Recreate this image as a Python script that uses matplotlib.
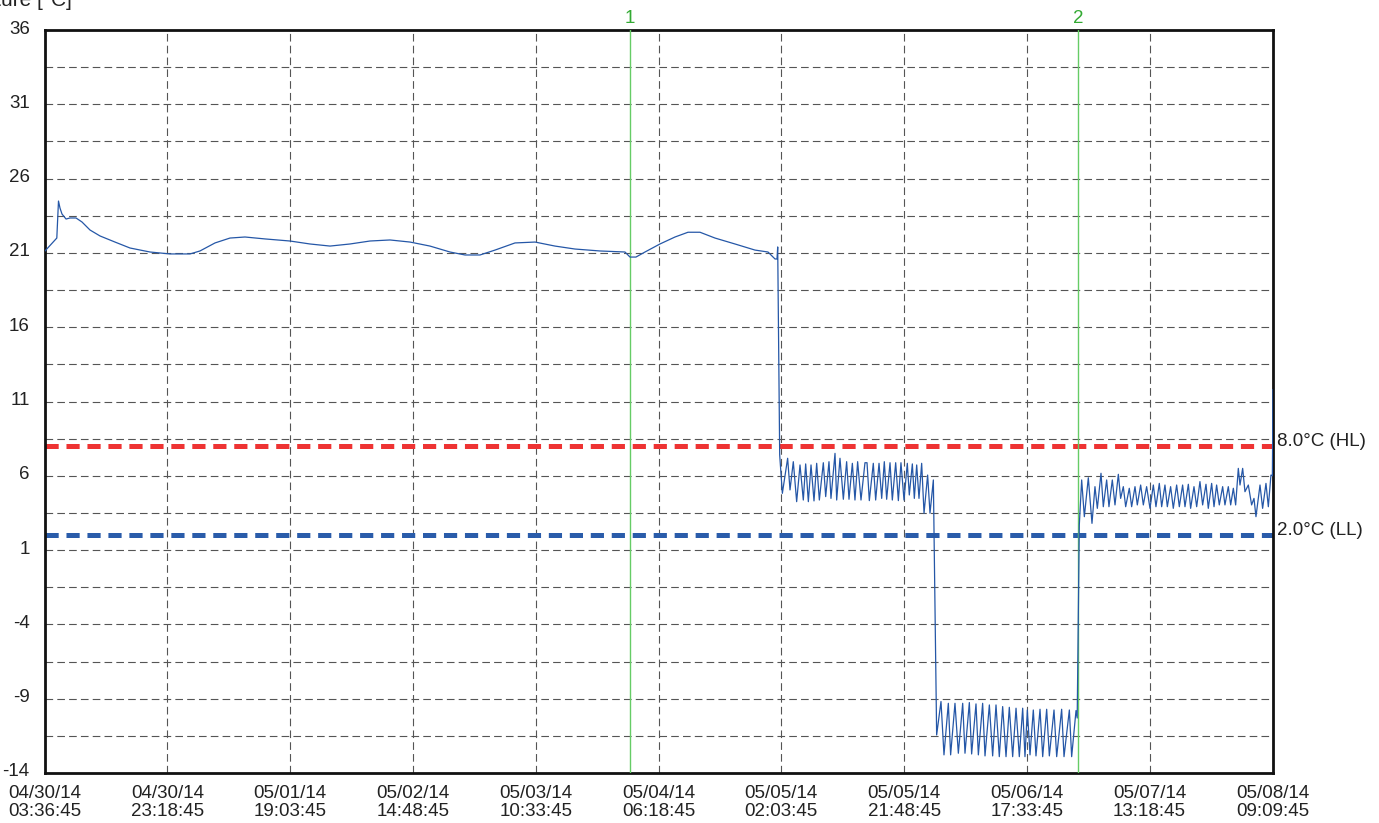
import numpy as np
import pandas as pd
import matplotlib
matplotlib.use("Agg")
import matplotlib.pyplot as plt
import matplotlib.transforms as mtransforms

plt.rcParams['font.family'] = ['Liberation Sans', 'DejaVu Sans']
plt.rcParams['lines.scale_dashes'] = False

# ---------------- data ----------------
start_time = "2014-04-30 03:36:45"
xtick_labels = ["04/30/14\n03:36:45", "04/30/14\n23:18:45", "05/01/14\n19:03:45",
                "05/02/14\n14:48:45", "05/03/14\n10:33:45", "05/04/14\n06:18:45",
                "05/05/14\n02:03:45", "05/05/14\n21:48:45", "05/06/14\n17:33:45",
                "05/07/14\n13:18:45", "05/08/14\n09:09:45"]
ytick_values = [-14, -9, -4, 1, 6, 11, 16, 21, 26, 31, 36]

# time in hours since start, temperature in degC
warm_t = [0.0, 1.9, 2.17, 2.41, 2.73, 3.38, 4.02, 4.99, 5.95, 7.24, 8.85, 11.26, 13.67,
          16.89, 20.11, 23.33, 24.93, 27.35, 29.76, 32.17, 35.39, 39.41, 42.63, 45.85,
          49.07, 52.28, 55.50, 58.72, 61.93, 65.15, 67.57, 69.98, 72.39, 75.61, 78.83,
          82.04, 85.26, 89.28, 93.30, 94.11, 95.07, 96.52, 98.93, 101.35, 103.44,
          105.37, 107.78, 111.0, 114.22, 116.31, 117.44, 117.76, 117.87, 118.19]
warm_v = [21.13, 22.0, 24.49, 24.02, 23.62, 23.28, 23.35, 23.35, 23.08, 22.54, 22.14,
          21.73, 21.33, 21.06, 20.93, 20.93, 21.13, 21.67, 22.0, 22.07, 21.94, 21.80,
          21.60, 21.46, 21.60, 21.80, 21.87, 21.73, 21.46, 21.06, 20.86, 20.86, 21.19,
          21.67, 21.73, 21.46, 21.26, 21.13, 21.06, 20.72, 20.72, 21.06, 21.60, 22.07,
          22.39, 22.39, 22.00, 21.60, 21.19, 21.06, 20.59, 20.59, 21.40, 7.40]

cool1_t = [118.62, 119.47, 119.85, 120.38, 120.92, 121.46, 121.99, 122.37, 122.80,
           123.23, 123.71, 124.14, 124.57, 125.21, 125.59, 126.12, 126.44, 127.09,
           127.36, 127.89, 128.43, 128.96, 129.34, 129.88, 130.30, 130.73, 131.27,
           131.91, 132.24, 132.61, 133.25, 133.63, 134.17, 134.60, 135.02, 135.40,
           135.94, 136.31, 136.85, 137.28, 137.70, 138.19, 138.72, 139.04, 139.53,
           139.85, 140.23, 140.60, 141.03, 141.41, 141.99, 142.37, 142.91]
cool1_v = [4.82, 7.18, 5.05, 6.95, 4.26, 6.73, 4.37, 6.80, 4.26, 6.73, 4.31, 6.84, 4.37,
           6.88, 4.60, 6.95, 4.48, 7.51, 4.37, 7.18, 4.42, 6.95, 4.42, 6.84, 4.37, 6.95,
           4.37, 6.88, 6.88, 4.33, 6.84, 4.37, 6.84, 4.48, 6.95, 4.42, 6.88, 4.37, 6.88,
           4.33, 6.88, 4.37, 6.84, 4.71, 6.80, 4.48, 6.73, 4.48, 6.84, 3.48, 6.05, 3.48,
           5.72]

frozen_t = [143.44, 144.14, 144.62, 145.32, 145.69, 146.39, 146.93, 147.63, 148.00,
            148.70, 149.07, 149.77, 150.15, 150.84, 151.22, 151.92, 152.45, 152.99,
            153.52, 154.06, 154.60, 155.13, 155.67, 156.21, 156.74, 157.28, 157.65,
            158.03, 158.46, 158.99, 159.42, 160.07, 160.50, 161.14, 161.57, 162.32,
            162.75, 163.55, 163.93, 164.79, 165.16, 165.86, 166.05]
frozen_v = [-11.44, -9.19, -12.78, -9.31, -12.78, -9.31, -12.67, -9.31, -12.67, -9.26,
            -12.72, -9.35, -12.78, -9.31, -12.85, -9.42, -12.85, -9.42, -12.90, -9.53,
            -12.90, -9.58, -12.90, -9.64, -12.90, -9.64, -12.90, -9.76, -12.78, -9.76,
            -12.85, -9.71, -12.90, -9.71, -12.85, -9.76, -12.90, -9.71, -12.90, -9.76,
            -12.90, -9.80, -10.30]

cool2_t = [166.39, 166.77, 167.20, 167.84, 168.43, 168.91, 169.29, 169.88, 170.25,
           170.79, 171.16, 171.70, 172.13, 172.67, 173.04, 173.47, 173.85, 174.43,
           174.81, 175.35, 175.72, 176.26, 176.69, 177.22, 177.76, 178.30, 178.72,
           179.26, 179.64, 180.17, 180.55, 181.08, 181.51, 182.05, 182.48, 183.01,
           183.39, 183.93, 184.30, 184.84, 185.27, 185.80, 186.23, 186.77, 187.14,
           187.68, 188.06, 188.48, 188.91, 189.45, 189.82, 190.36, 190.74, 191.17,
           191.54, 191.97, 192.24, 192.67, 193.04, 193.58, 194.11, 194.49, 194.81,
           195.46, 195.88, 196.42, 196.80, 197.22, 197.45, 197.55]
cool2_v = [2.69, 5.72, 3.25, 5.87, 2.80, 5.27, 3.81, 6.17, 3.92, 5.72, 3.92, 5.72, 4.04,
           6.10, 4.48, 5.27, 3.92, 5.16, 3.92, 5.27, 4.04, 5.38, 4.04, 5.27, 3.81, 5.38,
           3.92, 5.49, 3.92, 5.38, 3.92, 5.27, 3.81, 5.38, 3.92, 5.38, 3.92, 5.43, 3.81,
           5.27, 3.92, 5.61, 4.04, 5.43, 3.81, 5.49, 3.92, 5.38, 4.04, 5.27, 4.04, 5.27,
           4.04, 5.16, 4.04, 6.50, 5.38, 6.50, 4.93, 5.38, 4.04, 4.48, 3.25, 5.38, 3.81,
           5.49, 3.92, 6.05, 6.00, 11.80]

high_limit = 8.0
low_limit = 2.0
limit_labels = ["8.0°C (HL)", "2.0°C (LL)"]
marker_times = [94.11, 166.18]
marker_labels = ["1", "2"]
title = "Temperature [°C]"

# ---------------- plot ----------------
t = np.array(warm_t + cool1_t + frozen_t + cool2_t)
v = np.array(warm_v + cool1_v + frozen_v + cool2_v)

t0 = pd.Timestamp(start_time)
tick_pos = [(pd.to_datetime(lbl.replace("\n", " "), format="%m/%d/%y %H:%M:%S") - t0)
            / pd.Timedelta(hours=1) for lbl in xtick_labels]

W, H = 1379, 823
FS = 13.5
fig = plt.figure(figsize=(W / 100, H / 100), dpi=100)
ax = fig.add_axes([45 / W, 1 - 773 / H, (1273 - 45) / W, (773 - 30) / H])

ax.set_xlim(tick_pos[0], tick_pos[-1])
ax.set_ylim(-14, 36)

grid_kw = dict(color="#555555", lw=0.8, dashes=(5.5, 3.0), zorder=1)
for yv in np.arange(-14, 36.01, 2.5):
    if -14 < yv < 36:
        ax.axhline(yv, **grid_kw)
for xv in tick_pos[1:-1]:
    ax.axvline(xv, **grid_kw)

ax.axhline(high_limit, color="#ee3333", lw=3.6, dashes=(9.5, 5.6), zorder=2)
ax.axhline(low_limit, color="#2a5caa", lw=3.6, dashes=(9.5, 5.6), zorder=2)

for mt, ml in zip(marker_times, marker_labels):
    ax.axvline(mt, color="#66cc66", lw=1.0, zorder=3)
    ax.text(mt, 1.004, ml, transform=ax.get_xaxis_transform(), ha="center",
            va="bottom", color="#33aa33", fontsize=FS)

ax.plot(t, v, color="#2557a7", lw=0.9, zorder=4)

ax.text(1.003, high_limit, limit_labels[0], transform=ax.get_yaxis_transform(),
        ha="left", va="baseline", fontsize=FS, color="#222222")
ax.text(1.003, low_limit, limit_labels[1], transform=ax.get_yaxis_transform(),
        ha="left", va="baseline", fontsize=FS, color="#222222")

ax.set_xticks(tick_pos)
ax.set_xticklabels(xtick_labels, fontsize=FS, color="#222222", linespacing=1.05)
ax.set_yticks(ytick_values)
ax.set_yticklabels([str(y) for y in ytick_values], fontsize=FS, color="#222222")
ax.tick_params(axis="both", length=0)
ax.tick_params(axis="y", pad=11)
ax.tick_params(axis="x", pad=9)
shift = mtransforms.ScaledTranslation(0, 3 / 100, fig.dpi_scale_trans)
for lbl in ax.get_yticklabels():
    lbl.set_transform(lbl.get_transform() + shift)

for sp in ax.spines.values():
    sp.set_linewidth(2.0)
    sp.set_color("#111111")

fig.text(72 / W, 1 - 6 / H, title, ha="right", va="baseline", fontsize=15,
         color="#222222")

fig.savefig("out.png", dpi=100)
